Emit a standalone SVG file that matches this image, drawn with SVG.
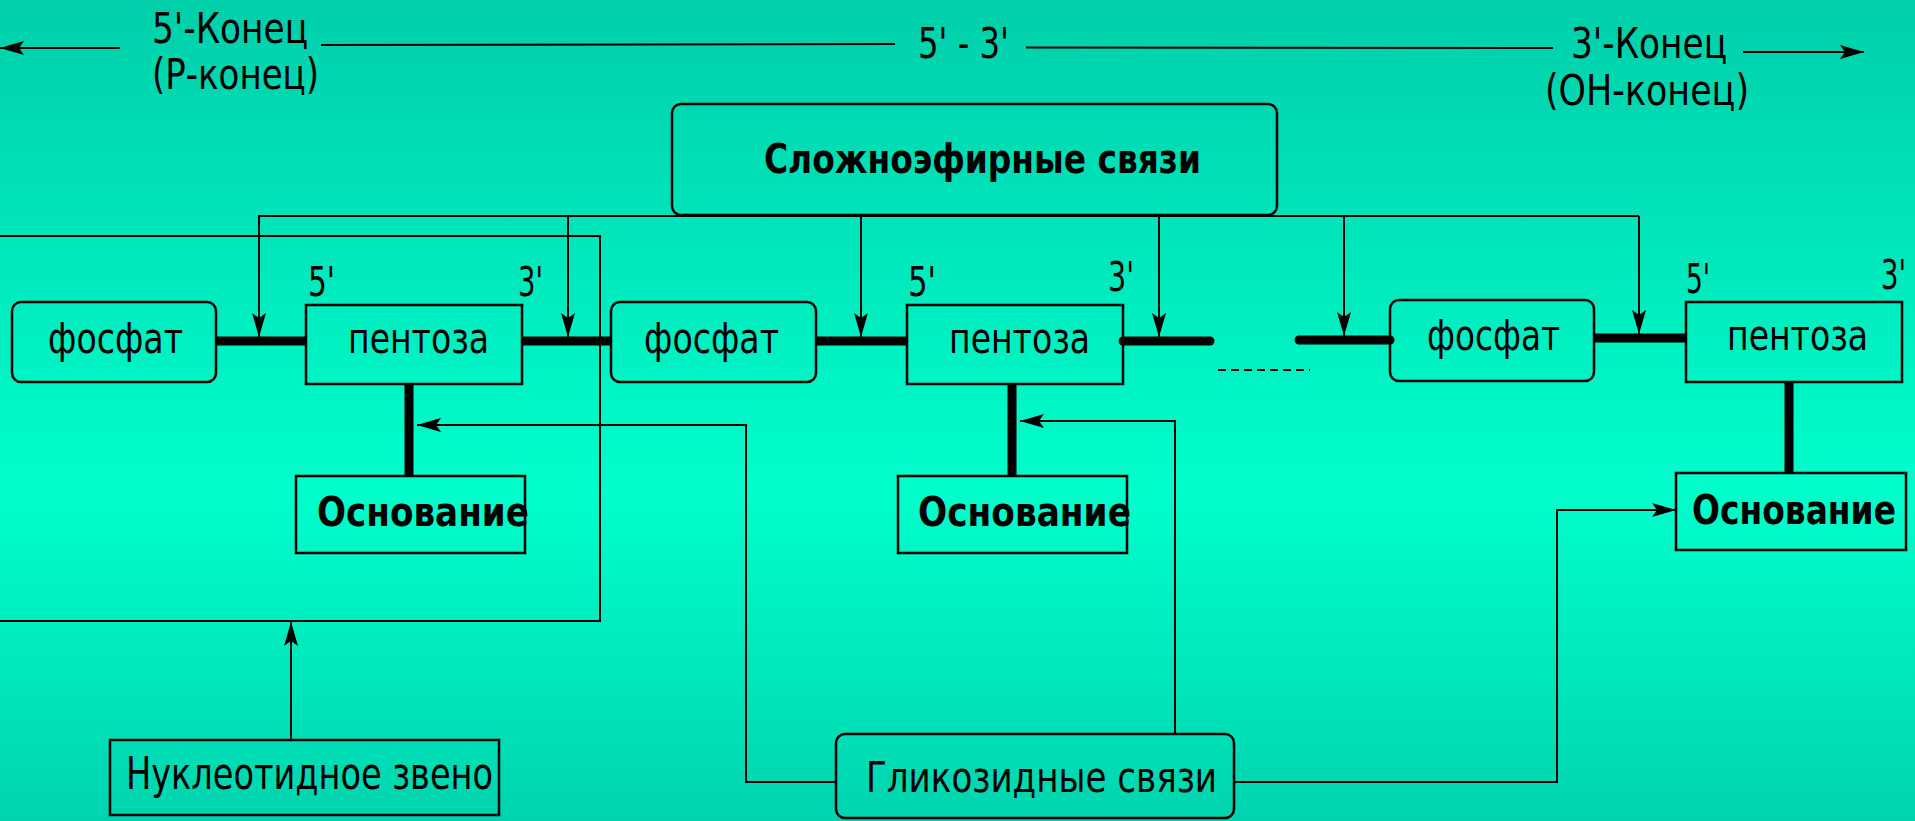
<svg xmlns="http://www.w3.org/2000/svg" width="1915" height="821" viewBox="0 0 1915 821">
<defs>
<linearGradient id="bg" x1="0" y1="0" x2="0" y2="1">
<stop offset="0" stop-color="#00CFAA"/>
<stop offset="0.6" stop-color="#00FFCC"/>
<stop offset="1" stop-color="#00D4AE"/>
</linearGradient>
<marker id="arr" viewBox="0 0 24 16" refX="24" refY="8" markerWidth="24" markerHeight="16" markerUnits="userSpaceOnUse" orient="auto">
<path d="M0,1 L24,8 L0,15 L5,8 Z" fill="#000"/>
</marker>
</defs>
<style>
text{font-family:"DejaVu Sans","Liberation Sans",sans-serif;fill:#000}
.lbl{font-size:42px}
.pr{font-size:40px}
.bx{font-size:42px}
.bd{font-size:41px;font-weight:bold}
.box{fill:none;stroke:#000;stroke-width:2.5}
.ln{fill:none;stroke:#000;stroke-width:2}
.bond{fill:none;stroke:#000;stroke-width:9;stroke-linecap:butt}
.bondr{fill:none;stroke:#000;stroke-width:9;stroke-linecap:round}
.dash{fill:none;stroke:#000;stroke-width:2;stroke-dasharray:8,5}
</style>
<rect x="0" y="0" width="1915" height="821" fill="url(#bg)"/>

<g id="ends">
<text class="lbl" x="152" y="43" textLength="156" lengthAdjust="spacingAndGlyphs">5'-Конец</text>
<text class="lbl" x="152" y="89" textLength="167" lengthAdjust="spacingAndGlyphs">(Р-конец)</text>
<text class="lbl" x="918" y="58" textLength="91" lengthAdjust="spacingAndGlyphs">5' - 3'</text>
<text class="lbl" x="1571" y="58" textLength="156" lengthAdjust="spacingAndGlyphs">3'-Конец</text>
<text class="lbl" x="1545" y="105" textLength="204" lengthAdjust="spacingAndGlyphs">(ОН-конец)</text>
</g>

<g id="ester">
<rect class="box" x="672" y="104" width="605" height="111" rx="9"/>
<text class="bd" x="764" y="173" textLength="437" lengthAdjust="spacingAndGlyphs">Сложноэфирные связи</text>
</g>

<g id="phos1">
<rect class="box" x="12" y="302" width="204" height="80" rx="9"/>
<text class="bx" x="48" y="353" textLength="135" lengthAdjust="spacingAndGlyphs">фосфат</text>
</g>
<g id="pent1">
<rect class="box" x="306" y="305" width="216" height="79"/>
<text class="bx" x="348" y="353" textLength="141" lengthAdjust="spacingAndGlyphs">пентоза</text>
<text class="pr" x="308" y="296" textLength="27" lengthAdjust="spacingAndGlyphs">5'</text>
<text class="pr" x="518" y="296" textLength="25" lengthAdjust="spacingAndGlyphs">3'</text>
</g>
<g id="base1">
<rect class="box" x="296" y="476" width="229" height="77"/>
<text class="bd" x="317" y="526" textLength="212" lengthAdjust="spacingAndGlyphs">Основание</text>
</g>

<g id="phos2">
<rect class="box" x="611" y="302" width="205" height="80" rx="9"/>
<text class="bx" x="644" y="353" textLength="135" lengthAdjust="spacingAndGlyphs">фосфат</text>
</g>
<g id="pent2">
<rect class="box" x="907" y="305" width="216" height="79"/>
<text class="bx" x="949" y="353" textLength="141" lengthAdjust="spacingAndGlyphs">пентоза</text>
<text class="pr" x="908" y="296" textLength="28" lengthAdjust="spacingAndGlyphs">5'</text>
<text class="pr" x="1108" y="291" textLength="26" lengthAdjust="spacingAndGlyphs">3'</text>
</g>
<g id="base2">
<rect class="box" x="898" y="476" width="229" height="77"/>
<text class="bd" x="918" y="526" textLength="213" lengthAdjust="spacingAndGlyphs">Основание</text>
</g>

<g id="phos3">
<rect class="box" x="1390" y="300" width="204" height="81" rx="9"/>
<text class="bx" x="1427" y="350" textLength="133" lengthAdjust="spacingAndGlyphs">фосфат</text>
</g>
<g id="pent3">
<rect class="box" x="1686" y="302" width="216" height="80"/>
<text class="bx" x="1727" y="350" textLength="141" lengthAdjust="spacingAndGlyphs">пентоза</text>
<text class="pr" x="1686" y="293" textLength="24" lengthAdjust="spacingAndGlyphs">5'</text>
<text class="pr" x="1881" y="289" textLength="25" lengthAdjust="spacingAndGlyphs">3'</text>
</g>
<g id="base3">
<rect class="box" x="1676" y="473" width="230" height="77"/>
<text class="bd" x="1692" y="524" textLength="204" lengthAdjust="spacingAndGlyphs">Основание</text>
</g>

<g id="nucleotide">
<rect class="ln" x="-10" y="236" width="610" height="385"/>
</g>
<g id="nucl-label">
<rect class="box" x="110" y="740" width="389" height="75"/>
<text class="bx" x="126" y="789" textLength="367" lengthAdjust="spacingAndGlyphs" style="font-size:44px">Нуклеотидное звено</text>
</g>
<g id="glyco">
<rect class="box" x="836" y="734" width="398" height="84" rx="9"/>
<text class="bx" x="866" y="792" textLength="351" lengthAdjust="spacingAndGlyphs">Гликозидные связи</text>
</g>

<g id="connectors">
<line class="ln" x1="120" y1="48" x2="0" y2="48" marker-end="url(#arr)"/>
<line class="ln" x1="321" y1="45" x2="895" y2="44"/>
<line class="ln" x1="1026" y1="47.5" x2="1553" y2="48"/>
<line class="ln" x1="1743" y1="52" x2="1864" y2="52" marker-end="url(#arr)"/>
<line class="bond" x1="216" y1="341" x2="306" y2="341"/>
<line class="bond" x1="522" y1="341" x2="611" y2="341"/>
<line class="bond" x1="816" y1="341" x2="907" y2="341"/>
<line class="bondr" x1="1123" y1="341" x2="1210" y2="341"/>
<line class="bondr" x1="1299" y1="340" x2="1390" y2="340"/>
<line class="bond" x1="1594" y1="338" x2="1686" y2="338"/>
<line class="bond" x1="409" y1="384" x2="409" y2="476"/>
<line class="bond" x1="1012" y1="384" x2="1012" y2="476"/>
<line class="bond" x1="1789" y1="382" x2="1789" y2="473"/>
<line class="dash" x1="1218" y1="370" x2="1310" y2="370"/>
<line class="ln" x1="258" y1="216" x2="1639" y2="216"/>
<line class="ln" x1="259" y1="216" x2="259" y2="337" marker-end="url(#arr)"/>
<line class="ln" x1="568" y1="216" x2="568" y2="337" marker-end="url(#arr)"/>
<line class="ln" x1="861" y1="216" x2="861" y2="337" marker-end="url(#arr)"/>
<line class="ln" x1="1159" y1="216" x2="1159" y2="337" marker-end="url(#arr)"/>
<line class="ln" x1="1344" y1="216" x2="1344" y2="336" marker-end="url(#arr)"/>
<line class="ln" x1="1639" y1="216" x2="1639" y2="334" marker-end="url(#arr)"/>
<line class="ln" x1="291" y1="740" x2="291" y2="622" marker-end="url(#arr)"/>
<polyline class="ln" points="836,782 746,782 746,425 417,425" marker-end="url(#arr)"/>
<polyline class="ln" points="1175,734 1175,421 1020,421" marker-end="url(#arr)"/>
<polyline class="ln" points="1234,782 1557,782 1557,510 1676,510" marker-end="url(#arr)"/>
</g>
</svg>
